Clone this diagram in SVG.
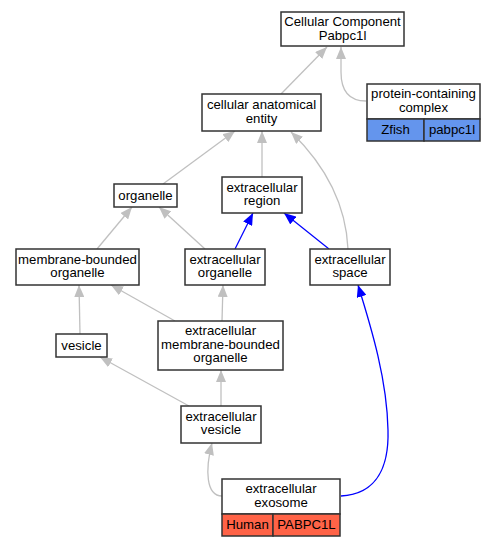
<svg xmlns="http://www.w3.org/2000/svg" width="495" height="547" viewBox="0 0 495 547">
<style>
.box{fill:#fff;stroke:#333;stroke-width:1.5}
.t{font-family:"Liberation Sans",Arial,sans-serif;font-size:13.2px;fill:#000;text-anchor:middle}
.g{fill:none;stroke:#c0c0c0;stroke-width:1.3}
.b{fill:none;stroke:#0000ff;stroke-width:1.3}
.zf{fill:#6495ed;stroke:#333;stroke-width:1.5}
.hu{fill:#ff6347;stroke:#333;stroke-width:1.5}
</style>
<defs>
<marker id="ag" viewBox="0 0 12 10" refX="12" refY="5" markerWidth="12" markerHeight="10" markerUnits="userSpaceOnUse" orient="auto"><path d="M0,0 L12,5 L0,10 z" fill="#c0c0c0"/></marker>
<marker id="ab" viewBox="0 0 12 10" refX="12" refY="5" markerWidth="12" markerHeight="10" markerUnits="userSpaceOnUse" orient="auto"><path d="M0,0 L12,5 L0,10 z" fill="#0000ff"/></marker>
</defs>
<rect width="495" height="547" fill="#fff"/>
<g id="edges">
<path class="g" marker-end="url(#ag)" d="M281,94 L327,47"/>
<path class="g" marker-end="url(#ag)" d="M366,101 C350,101 341,92 341,72 L341,47"/>
<path class="g" marker-end="url(#ag)" d="M163,184 L235,131"/>
<path class="g" marker-end="url(#ag)" d="M262,177 L262,131"/>
<path class="g" marker-end="url(#ag)" d="M348,249 C346,205 325,165 291,132"/>
<path class="g" marker-end="url(#ag)" d="M97,249 L132,207"/>
<path class="g" marker-end="url(#ag)" d="M205,249 L159,207"/>
<path class="b" marker-end="url(#ab)" d="M235,249 L253,213"/>
<path class="b" marker-end="url(#ab)" d="M329,249 L284,213"/>
<path class="g" marker-end="url(#ag)" d="M80,334 L79,285"/>
<path class="g" marker-end="url(#ag)" d="M175,321 L111,285"/>
<path class="g" marker-end="url(#ag)" d="M222,321 L223,285"/>
<path class="g" marker-end="url(#ag)" d="M189,406 L100,357"/>
<path class="g" marker-end="url(#ag)" d="M221,406 L221,370"/>
<path class="g" marker-end="url(#ag)" d="M222,496 C206,496 205,470 212,443"/>
<path class="b" marker-end="url(#ab)" d="M341,496 C378,494 389,465 388,430 C387,380 372,330 358,285"/>
</g>
<g id="cc">
<rect class="box" x="281" y="12" width="123" height="34"/>
<text class="t" x="342.5" y="26">Cellular Component</text>
<text class="t" x="342.5" y="40">Pabpc1l</text>
</g>
<g id="pcc">
<rect class="box" x="367" y="84" width="113" height="35"/>
<rect class="zf" x="367" y="119" width="57" height="22"/>
<rect class="zf" x="424" y="119" width="56" height="22"/>
<text class="t" x="423.5" y="98">protein-containing</text>
<text class="t" x="423.5" y="111.5">complex</text>
<text class="t" x="395.5" y="134">Zfish</text>
<text class="t" x="452" y="134">pabpc1l</text>
</g>
<g id="cae">
<rect class="box" x="202" y="94" width="119" height="37"/>
<text class="t" x="261.5" y="109">cellular anatomical</text>
<text class="t" x="261.5" y="122.5">entity</text>
</g>
<g id="organelle">
<rect class="box" x="114" y="184" width="63" height="23"/>
<text class="t" x="145.5" y="200">organelle</text>
</g>
<g id="exregion">
<rect class="box" x="222" y="177" width="80" height="36"/>
<text class="t" x="262" y="191.5">extracellular</text>
<text class="t" x="262" y="205">region</text>
</g>
<g id="mbo">
<rect class="box" x="16" y="249" width="123" height="36"/>
<text class="t" x="77.5" y="263.5">membrane-bounded</text>
<text class="t" x="77.5" y="277">organelle</text>
</g>
<g id="exorg">
<rect class="box" x="185" y="249" width="80" height="36"/>
<text class="t" x="225" y="263.5">extracellular</text>
<text class="t" x="225" y="277">organelle</text>
</g>
<g id="exspace">
<rect class="box" x="310" y="249" width="80" height="36"/>
<text class="t" x="350" y="263.5">extracellular</text>
<text class="t" x="350" y="277">space</text>
</g>
<g id="vesicle">
<rect class="box" x="56" y="334" width="51" height="23"/>
<text class="t" x="81.5" y="350">vesicle</text>
</g>
<g id="embo">
<rect class="box" x="158" y="321" width="125" height="49"/>
<text class="t" x="220.5" y="335">extracellular</text>
<text class="t" x="220.5" y="348.5">membrane-bounded</text>
<text class="t" x="220.5" y="362">organelle</text>
</g>
<g id="exves">
<rect class="box" x="181" y="406" width="80" height="37"/>
<text class="t" x="221" y="420.5">extracellular</text>
<text class="t" x="221" y="434">vesicle</text>
</g>
<g id="exosome">
<rect class="box" x="222" y="479" width="118" height="35"/>
<rect class="hu" x="222" y="514" width="51" height="22"/>
<rect class="hu" x="273" y="514" width="67" height="22"/>
<text class="t" x="281" y="493">extracellular</text>
<text class="t" x="281" y="506.5">exosome</text>
<text class="t" x="247.5" y="529">Human</text>
<text class="t" x="306.5" y="529">PABPC1L</text>
</g>
</svg>
